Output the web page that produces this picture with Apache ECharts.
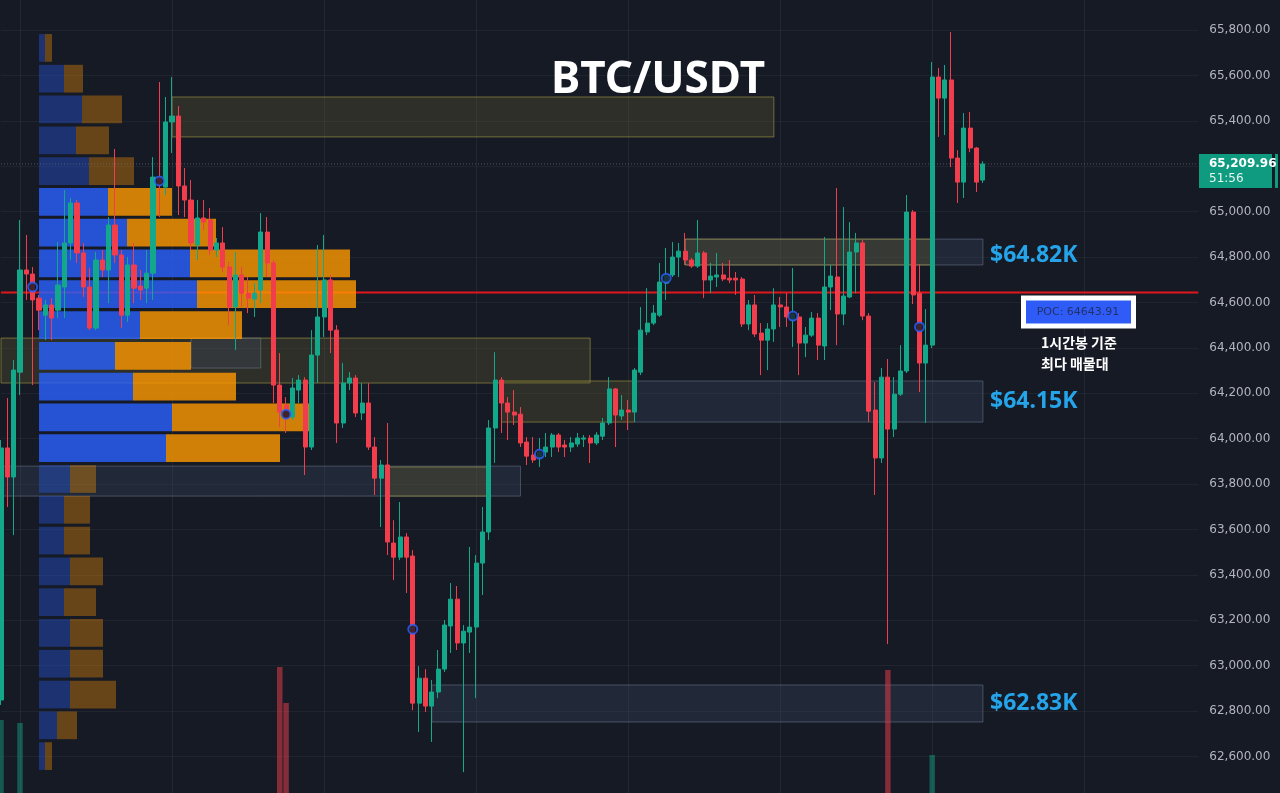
<!DOCTYPE html>
<html>
<head>
<meta charset="utf-8">
<title>BTC/USDT</title>
<script src="https://cdn.jsdelivr.net/npm/echarts@6/dist/echarts.min.js"></script>
<style>
  html, body { margin: 0; padding: 0; background: #161a25; }
  #main { width: 1280px; height: 793px; }
</style>
</head>
<body>
<div id="main"></div>
<script>
// 1시간봉 BTC/USDT (값은 그림에서 읽은 추정치)
const slotCount = 190 // 오른쪽 빈 칸까지 포함한 카테고리 수
const opens = [62849, 63959, 63831, 64293, 64743, 64725, 64619, 64544, 64589, 64566,
  64668, 64862, 65038, 64818, 64668, 64487, 64787, 64743, 64941, 64809,
  64544, 64765, 64672, 64663, 64729, 65152, 65108, 65395, 65421, 65113,
  65051, 64853, 64972, 64963, 64831, 64862, 64756, 64580, 64721, 64641,
  64615, 64655, 64910, 64774, 64236, 64148, 64095, 64214, 64258, 63963,
  64368, 64536, 64699, 64478, 64069, 64245, 64267, 64113, 64157, 63963,
  63826, 63884, 63540, 63478, 63567, 63483, 62835, 62945, 62822, 62884,
  62985, 63175, 63293, 63100, 63148, 63170, 63452, 63589, 64047, 64258,
  64157, 64117, 64108, 63985, 63928, 63915, 63941, 63963, 64016, 63972,
  63963, 63976, 63998, 64003, 63981, 64011, 64069, 64219, 64100, 64126,
  64117, 64293, 64470, 64509, 64544, 64685, 64721, 64800, 64826, 64787,
  64760, 64818, 64699, 64712, 64721, 64707, 64707, 64703, 64505, 64589,
  64465, 64434, 64483, 64589, 64580, 64522, 64536, 64421, 64456, 64531,
  64408, 64668, 64712, 64549, 64624, 64822, 64862, 64540, 64126, 63915,
  64271, 64042, 64196, 64298, 64998, 64641, 64333, 64412, 65593, 65500,
  65580, 65236, 65130, 65368, 65280, 65139]
const closes = [63959, 63831, 64302, 64743, 64725, 64611, 64566, 64589, 64531, 64677,
  64862, 65038, 64818, 64668, 64487, 64787, 64743, 64941, 64809, 64544,
  64765, 64663, 64655, 64729, 65152, 65117, 65395, 65421, 65113, 65051,
  64862, 64972, 64954, 64831, 64862, 64756, 64580, 64721, 64641, 64619,
  64641, 64910, 64774, 64236, 64117, 64091, 64223, 64258, 63963, 64368,
  64536, 64699, 64478, 64069, 64245, 64267, 64113, 64157, 63963, 63826,
  63884, 63545, 63478, 63567, 63478, 62835, 62945, 62822, 62884, 62985,
  63179, 63293, 63100, 63152, 63170, 63452, 63589, 64047, 64258, 64157,
  64117, 64104, 63981, 63923, 63906, 63941, 63963, 64016, 63963, 63963,
  63981, 64003, 64003, 63981, 64016, 64069, 64219, 64104, 64126, 64117,
  64302, 64478, 64509, 64553, 64690, 64721, 64800, 64826, 64787, 64760,
  64818, 64699, 64716, 64721, 64703, 64699, 64699, 64505, 64589, 64461,
  64434, 64483, 64589, 64580, 64536, 64549, 64421, 64456, 64531, 64412,
  64668, 64716, 64549, 64628, 64822, 64862, 64540, 64121, 63915, 64271,
  64042, 64196, 64298, 64998, 64633, 64333, 64412, 65593, 65500, 65580,
  65236, 65130, 65368, 65280, 65130, 65209.96]
const lows = [62827, 63699, 63575, 64192, 64611, 64236, 64478, 64434, 64434, 64531,
  64531, 64787, 64774, 64624, 64478, 64478, 64712, 64597, 64774, 64487,
  64514, 64597, 64611, 64597, 64611, 64976, 65073, 65258, 64985, 64976,
  64831, 64787, 64919, 64809, 64800, 64734, 64500, 64390, 64580, 64553,
  64536, 64597, 64712, 64157, 64051, 64025, 64082, 64157, 63840, 63950,
  64245, 64448, 64377, 63981, 64047, 64214, 64095, 64082, 63950, 63752,
  63611, 63487, 63377, 63465, 63320, 62804, 62708, 62796, 62664, 62857,
  62972, 63056, 63069, 62531, 63056, 62857, 63311, 63553, 63893, 64025,
  63994, 64060, 63963, 63884, 63893, 63875, 63919, 63919, 63941, 63919,
  63941, 63963, 63963, 63893, 63972, 63994, 64060, 63963, 64082, 64038,
  64073, 64280, 64456, 64500, 64536, 64611, 64712, 64712, 64765, 64752,
  64752, 64619, 64641, 64668, 64694, 64685, 64633, 64492, 64478, 64448,
  64280, 64302, 64426, 64492, 64492, 64404, 64280, 64359, 64448, 64346,
  64346, 64566, 64412, 64500, 64619, 64641, 64522, 64073, 63752, 63893,
  63095, 64007, 64188, 64289, 64593, 64205, 64069, 64399, 65329, 65337,
  65196, 65038, 65060, 65262, 65086, 65126]
const highs = [63994, 64179, 64346, 64963, 64897, 64756, 64633, 64611, 64619, 64866,
  65095, 65060, 65051, 64862, 64752, 64822, 64831, 64976, 65276, 64831,
  64800, 64862, 64743, 64831, 65240, 65571, 65505, 65593, 65465, 65192,
  65139, 65051, 65051, 65016, 64884, 64932, 64778, 64822, 64756, 64712,
  64685, 64994, 64976, 64787, 64377, 64183, 64267, 64280, 64271, 64478,
  64853, 64897, 64721, 64500, 64333, 64293, 64280, 64245, 64245, 64007,
  63906, 64069, 63641, 63721, 63584, 63509, 62998, 62985, 62937, 63069,
  63201, 63364, 63351, 63179, 63523, 63487, 63699, 64082, 64381, 64271,
  64183, 64214, 64139, 64007, 64007, 64003, 64025, 64025, 64025, 63994,
  64007, 64025, 64016, 64016, 64029, 64091, 64271, 64223, 64192, 64170,
  64311, 64580, 64663, 64589, 64774, 64840, 64866, 64862, 64906, 64796,
  64963, 64826, 64774, 64818, 64774, 64787, 64734, 64712, 64611, 64633,
  64509, 64509, 64663, 64624, 64641, 64752, 64553, 64492, 64558, 64553,
  64888, 64765, 65104, 65020, 64954, 64906, 64875, 64553, 64249, 64311,
  64351, 64271, 64412, 65073, 65007, 64769, 64571, 65659, 65633, 65646,
  65791, 65271, 65434, 65439, 65285, 65222]

// 파란 원 표시 (20봉마다)
const markerIdx = [5, 25, 45, 65, 85, 105, 125, 145]
const markerVal = [64668, 65135, 64108, 63161, 63932, 64707, 64540, 64492]

// 아래쪽에 보이는 거래량 막대만
const volIdx = [0, 3, 44, 45, 140, 147]
const volVal = [180, 177, 233, 197, 230, 145]

// 볼륨 프로파일 (행 중심 가격, 매수/매도 길이)
const vpRows = [65721, 65585, 65450, 65314, 65179, 65043, 64907, 64772, 64636, 64501,
  64365, 64229, 64094, 63958, 63823, 63687, 63551, 63416, 63280, 63145,
  63009, 62873, 62738, 62602]
const vpBuy = [6, 25, 43, 37, 50, 69, 88, 151, 158, 101, 76, 94, 133, 127, 31, 25, 25, 31, 25, 31, 31, 31, 18, 6]
const vpSell = [7, 19, 40, 33, 45, 64, 89, 160, 159, 102, 76, 103, 137, 114, 26, 26, 26, 33, 32, 33, 33, 46, 20, 7]
const valueAreaFirst = 5
const valueAreaLast = 13

const pocPrice = 64643.91
const lastPrice = 65209.96
const lastTimer = '51:56'

// 박스 구간: [시작봉, 끝봉, 위 가격, 아래 가격, 종류(1=노랑 0=회색)]
const zones = [
  [108, 155, 64879, 64765, 0],
  [100, 155, 64254, 64073, 0],
  [0, 82, 63879, 63747, 0],
  [68, 155, 62915, 62752, 0],
  [27, 122, 65505, 65329, 1],
  [108, 147, 64879, 64765, 1],
  [0, 93, 64443, 64245, 1],
  [79, 100, 64254, 64073, 1],
  [61, 77, 63875, 63747, 1],
  [30, 41, 64443, 64311, 0]
]
const levelLabels = ['$64.82K', '$64.15K', '$62.83K']
const levelPrices = [64809, 64166, 62835]

const upColor = '#14a88a'
const downColor = '#f23d4c'

let categories = []
for (let i = 0; i < slotCount; i++) {
  categories.push(String(i))
}

let candles = opens.map((o, i) => [o, closes[i], lows[i], highs[i]])

let volumes = categories.map(() => null)
volIdx.forEach((k, i) => {
  volumes[k] = {
    value: volVal[i],
    itemStyle: { color: closes[k] >= opens[k] ? 'rgba(20,168,138,0.45)' : 'rgba(242,61,76,0.5)' }
  }
})

function vpColor(i, buy) {
  let bright = i >= valueAreaFirst && i <= valueAreaLast
  if (buy) return bright ? 'rgba(41,98,255,0.8)' : 'rgba(41,98,255,0.35)'
  return bright ? 'rgba(255,152,0,0.8)' : 'rgba(255,152,0,0.35)'
}

function drawZone(params, api) {
  let a = api.coord([api.value(0), api.value(2)])
  let b = api.coord([api.value(1), api.value(3)])
  let olive = api.value(4) === 1
  return {
    type: 'rect',
    shape: { x: a[0], y: a[1], width: b[0] - a[0], height: b[1] - a[1] },
    style: {
      fill: olive ? 'rgba(98,94,46,0.32)' : 'rgba(66,82,110,0.26)',
      stroke: olive ? 'rgba(175,165,70,0.55)' : 'rgba(125,140,165,0.45)',
      lineWidth: 1
    }
  }
}

function fmtPrice(v) {
  return v.toLocaleString('en-US', { minimumFractionDigits: 2, maximumFractionDigits: 2 })
}

let mychart = echarts.init(document.getElementById('main'))

let option = {
  backgroundColor: '#161a25',
  animation: false,
  grid: [
    // 가격 영역 (66,000 / 62,400 은 화면 밖)
    { left: 1, top: -15.4, width: 1197.3, height: 817.3, outerBoundsMode: 'none', containLabel: false },
    // 볼륨 프로파일
    { left: 39, top: 32.5, width: 400, height: 739, outerBoundsMode: 'none' },
    // 거래량
    { left: 1, top: 600, width: 1197.3, height: 300, outerBoundsMode: 'none' }
  ],
  xAxis: [
    {
      type: 'category',
      gridIndex: 0,
      data: categories,
      boundaryGap: false,
      axisLine: { show: false },
      axisTick: { show: false },
      axisLabel: { show: false },
      splitLine: {
        show: true,
        interval: (i) => i % 24 === 3,
        lineStyle: { color: 'rgba(42,46,57,0.7)', width: 1 }
      }
    },
    { type: 'value', gridIndex: 1, min: 0, max: 400, show: false },
    { type: 'category', gridIndex: 2, data: categories, boundaryGap: false, show: false }
  ],
  yAxis: [
    {
      type: 'value',
      gridIndex: 0,
      position: 'right',
      min: 62400,
      max: 66000,
      interval: 200,
      axisLine: { show: false },
      axisTick: { show: false },
      axisLabel: {
        color: '#b2b5be',
        fontSize: 12,
        fontFamily: 'DejaVu Sans',
        align: 'left',
        margin: 11,
        formatter: fmtPrice
      },
      splitLine: { lineStyle: { color: 'rgba(42,46,57,0.55)', width: 1 } }
    },
    { type: 'category', gridIndex: 1, data: vpRows, inverse: true, show: false },
    { type: 'value', gridIndex: 2, min: 0, max: 300, show: false }
  ],
  series: [
    {
      name: 'zones',
      type: 'custom',
      xAxisIndex: 0,
      yAxisIndex: 0,
      z: 1,
      renderItem: drawZone,
      encode: { x: [0, 1], y: [2, 3] },
      data: zones
    },
    {
      name: 'POC',
      type: 'line',
      xAxisIndex: 0,
      yAxisIndex: 0,
      z: 1,
      symbol: 'none',
      lineStyle: { color: '#e0161c', width: 2 },
      data: [[0, pocPrice], [slotCount - 1, pocPrice]]
    },
    {
      name: '매수',
      type: 'bar',
      xAxisIndex: 1,
      yAxisIndex: 1,
      stack: 'vp',
      z: 2,
      barCategoryGap: '10%',
      data: vpBuy.map((v, i) => ({ value: v, itemStyle: { color: vpColor(i, true) } }))
    },
    {
      name: '매도',
      type: 'bar',
      xAxisIndex: 1,
      yAxisIndex: 1,
      stack: 'vp',
      z: 2,
      barCategoryGap: '10%',
      data: vpSell.map((v, i) => ({ value: v, itemStyle: { color: vpColor(i, false) } }))
    },
    {
      name: 'volume',
      type: 'bar',
      xAxisIndex: 2,
      yAxisIndex: 2,
      z: 2,
      barWidth: 5.5,
      data: volumes
    },
    {
      name: 'last',
      type: 'line',
      xAxisIndex: 0,
      yAxisIndex: 0,
      z: 3,
      symbol: 'none',
      lineStyle: { color: 'rgba(120,128,145,0.55)', width: 1, type: [1, 2] },
      data: [[0, lastPrice], [slotCount - 1, lastPrice]]
    },
    {
      name: 'BTC/USDT',
      type: 'candlestick',
      xAxisIndex: 0,
      yAxisIndex: 0,
      z: 4,
      barWidth: 4.6,
      itemStyle: {
        color: upColor,
        color0: downColor,
        borderColor: upColor,
        borderColor0: downColor,
        borderWidth: 1
      },
      data: candles
    },
    {
      name: 'marker',
      type: 'scatter',
      xAxisIndex: 0,
      yAxisIndex: 0,
      z: 5,
      symbol: 'circle',
      symbolSize: 9,
      itemStyle: { color: '#161a25', borderColor: '#2962ff', borderWidth: 2 },
      data: markerIdx.map((x, i) => [x, markerVal[i]])
    }
  ]
}

mychart.setOption(option)

// 가격에 맞춰 주석 배치
let yOf = (p) => mychart.convertToPixel({ yAxisIndex: 0 }, p)
let yPoc = yOf(pocPrice)
let yLast = yOf(lastPrice)

let graphics = [
  {
    type: 'text', z: 20, x: 658, y: 80,
    style: { text: 'BTC/USDT', fill: '#ffffff', font: 'bold 44px "Noto Sans"', align: 'center', verticalAlign: 'middle' }
  }
]
levelLabels.forEach((t, i) => {
  graphics.push({
    type: 'text', z: 20, x: 990, y: yOf(levelPrices[i]),
    style: { text: t, fill: '#25a4ea', font: 'bold 23px "Noto Sans"', align: 'left', verticalAlign: 'middle' }
  })
})
// POC 라벨
graphics.push(
  { type: 'rect', z: 20, shape: { x: 1021, y: yPoc + 3, width: 115, height: 33 }, style: { fill: '#ffffff' } },
  { type: 'rect', z: 21, shape: { x: 1026, y: yPoc + 8, width: 105, height: 23 }, style: { fill: '#2f5cf6' } },
  {
    type: 'text', z: 22, x: 1078, y: yPoc + 19.5,
    style: { text: 'POC: ' + pocPrice.toFixed(2), fill: '#22316c', font: '11px "DejaVu Sans"', align: 'center', verticalAlign: 'middle' }
  },
  {
    type: 'text', z: 22, x: 1041, y: yPoc + 50,
    style: { text: '1시간봉 기준', fill: '#ffffff', font: 'bold 14px "Noto Sans CJK KR"', align: 'left', verticalAlign: 'middle' }
  },
  {
    type: 'text', z: 22, x: 1041, y: yPoc + 71,
    style: { text: '최다 매물대', fill: '#ffffff', font: 'bold 14px "Noto Sans CJK KR"', align: 'left', verticalAlign: 'middle' }
  }
)
// 현재가 라벨
graphics.push(
  { type: 'rect', z: 20, shape: { x: 1199, y: yLast - 10, width: 73, height: 34 }, style: { fill: '#0e9b80' } },
  { type: 'rect', z: 20, shape: { x: 1275, y: yLast - 10, width: 3, height: 34 }, style: { fill: '#0e9b80' } },
  {
    type: 'text', z: 21, x: 1209, y: yLast,
    style: { text: fmtPrice(lastPrice), fill: '#ffffff', font: 'bold 12px "DejaVu Sans"', align: 'left', verticalAlign: 'middle' }
  },
  {
    type: 'text', z: 21, x: 1209, y: yLast + 15,
    style: { text: lastTimer, fill: '#e8f5f1', font: '12px "DejaVu Sans"', align: 'left', verticalAlign: 'middle' }
  }
)

mychart.setOption({ graphic: graphics })
</script>
</body>
</html>
